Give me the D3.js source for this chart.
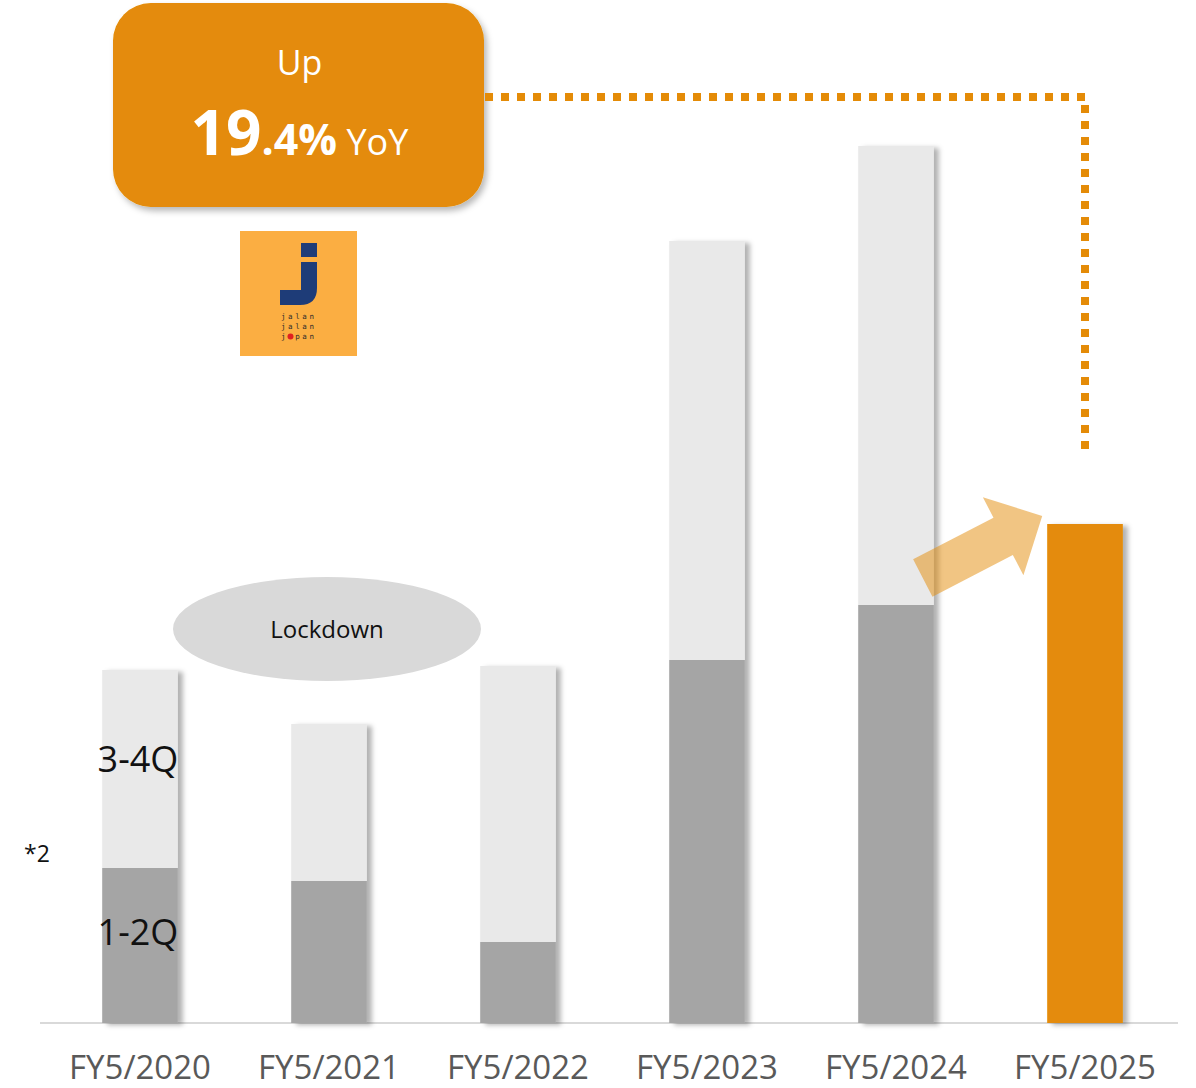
<!DOCTYPE html>
<html>
<head>
<meta charset="utf-8">
<script src="https://cdn.jsdelivr.net/npm/d3@7/dist/d3.min.js"></script>
<style>
  html, body { margin: 0; padding: 0; background: #fff; }
  svg { display: block; font-family: "Open Sans", "Noto Sans", sans-serif; }
</style>
</head>
<body>
<svg id="chart" width="1196" height="1088"></svg>
<script>
// Fiscal years (May year-end)
const categories = ["FY5/2020", "FY5/2021", "FY5/2022", "FY5/2023", "FY5/2024", "FY5/2025"];
// First-half (1-2Q) and second-half (3-4Q) values, same units
const firstHalf  = [15.5, 14.2, 8.1, 36.3, 41.8, 49.9];
const secondHalf = [19.8, 15.7, 27.6, 41.9, 45.9, null];
const segmentLabels = ["1-2Q", "3-4Q"];

const baseY = 1023;
const COLORS = { h1: "#A5A5A5", h2: "#E9E9E9", current: "#E48B07", text: "#595959" };

const svg = d3.select("#chart");
const defs = svg.append("defs");

const barShadow = defs.append("filter").attr("id", "barShadow")
  .attr("x", "-20%").attr("y", "-5%").attr("width", "150%").attr("height", "115%");
barShadow.append("feDropShadow").attr("dx", 5).attr("dy", 2).attr("stdDeviation", 2.5)
  .attr("flood-color", "#000").attr("flood-opacity", 0.3);

const boxShadow = defs.append("filter").attr("id", "boxShadow")
  .attr("x", "-10%").attr("y", "-10%").attr("width", "125%").attr("height", "130%");
boxShadow.append("feDropShadow").attr("dx", 3).attr("dy", 4).attr("stdDeviation", 3)
  .attr("flood-color", "#000").attr("flood-opacity", 0.28);

const x = d3.scaleBand().domain(categories).range([45.5, 1179.5])
  .paddingInner(0.6).paddingOuter(0.3);
const y = d3.scaleLinear().domain([0, 100]).range([baseY, 23]);
const bw = x.bandwidth();

const rows = categories.map((c, i) => ({ cat: c, h1: firstHalf[i], h2: secondHalf[i], current: secondHalf[i] == null }));

// Axis along the baseline
const axis = svg.append("g").attr("transform", `translate(0,${baseY})`)
  .call(d3.axisBottom(x).tickSize(0).tickPadding(33));
axis.select(".domain").attr("stroke", "#D9D9D9").attr("stroke-width", 2)
  .attr("d", `M40,0H1178`);
axis.selectAll("text").attr("font-size", 33).attr("fill", COLORS.text)
  .attr("font-family", "Open Sans, sans-serif");

// Stacked bars
const bars = svg.append("g").selectAll("g.bar").data(rows).join("g")
  .attr("class", "bar").attr("filter", "url(#barShadow)");
bars.append("rect")
  .attr("x", d => x(d.cat)).attr("width", bw)
  .attr("y", d => y(d.h1)).attr("height", d => baseY - y(d.h1))
  .attr("fill", d => d.current ? COLORS.current : COLORS.h1);
bars.filter(d => !d.current).append("rect")
  .attr("x", d => x(d.cat)).attr("width", bw)
  .attr("y", d => y(d.h1 + d.h2)).attr("height", d => y(d.h1) - y(d.h1 + d.h2))
  .attr("fill", COLORS.h2);

// Segment labels on the first bar
const first = rows[0];
const cx0 = x(first.cat) + bw / 2 - 2;
svg.append("text").attr("x", cx0).attr("y", y(first.h1 + first.h2 / 2) + 3)
  .attr("text-anchor", "middle").attr("font-size", 36).attr("fill", "#111")
  .text(segmentLabels[1]);
svg.append("text").attr("x", cx0).attr("y", y(first.h1 / 2) - 1)
  .attr("text-anchor", "middle").attr("font-size", 36).attr("fill", "#111")
  .text(segmentLabels[0]);
svg.append("text").attr("x", 24).attr("y", 862)
  .attr("font-size", 23).attr("fill", "#111").text("*2");

// Lockdown bubble above FY5/2021
const lx = x("FY5/2021") + bw / 2 - 2;
const ly = y(first.h1 + first.h2) - 41;
svg.append("ellipse").attr("cx", lx).attr("cy", ly).attr("rx", 154).attr("ry", 52).attr("fill", "#D9D9D9");
svg.append("text").attr("x", lx).attr("y", ly + 9).attr("text-anchor", "middle")
  .attr("font-size", 24).attr("fill", "#111").text("Lockdown");

// Growth arrow from FY5/2024 first half to FY5/2025
const prev = rows[4], cur = rows[5];
const tail = [x(prev.cat) + bw - 11, y(prev.h1) - 27];
const tip = [x(cur.cat) - 5, y(cur.h1) - 8];
const ang = Math.atan2(tip[1] - tail[1], tip[0] - tail[0]) * 180 / Math.PI;
const len = Math.hypot(tip[0] - tail[0], tip[1] - tail[1]);
const shaftW = 42, headW = 88, headL = 44;
svg.append("path")
  .attr("transform", `translate(${tail[0]},${tail[1]}) rotate(${ang})`)
  .attr("d", `M0,${-shaftW/2}H${len-headL}V${-headW/2}L${len},0L${len-headL},${headW/2}V${shaftW/2}H0Z`)
  .attr("fill", COLORS.current).attr("fill-opacity", 0.5);

// Growth callout
const growth = (cur.h1 / prev.h1 - 1) * 100;
const gStr = growth.toFixed(1);
const [gInt, gDec] = gStr.split(".");
const box = { x: 113, y: 3, w: 371, h: 204 };
svg.append("rect").attr("x", box.x).attr("y", box.y).attr("width", box.w).attr("height", box.h)
  .attr("rx", 38).attr("fill", COLORS.current).attr("filter", "url(#boxShadow)");
const bcx = box.x + box.w / 2 + 1;
svg.append("text").attr("x", bcx).attr("y", 75).attr("text-anchor", "middle")
  .attr("font-size", 34).attr("fill", "#fff").text("Up");
const gt = svg.append("text").attr("x", bcx).attr("y", 155).attr("text-anchor", "middle").attr("fill", "#fff");
gt.append("tspan").attr("font-size", 62).attr("font-weight", 700).text(gInt);
gt.append("tspan").attr("font-size", 43).attr("font-weight", 700).text("." + gDec + "%");
gt.append("tspan").attr("font-size", 36).text(" YoY");

// Dotted leader from the callout to the FY5/2025 bar
const lead = [[box.x + box.w + 1, 97], [x(cur.cat) + bw / 2, 97], [x(cur.cat) + bw / 2, y(cur.h1) - 70]];
svg.append("path").attr("d", d3.line()(lead)).attr("fill", "none")
  .attr("stroke", COLORS.current).attr("stroke-width", 8).attr("stroke-dasharray", "8 8");

// Brand logo
const logo = svg.append("g").attr("transform", "translate(240,231)");
logo.append("rect").attr("width", 117).attr("height", 125).attr("fill", "#FBAE42");
logo.append("rect").attr("x", 61).attr("y", 12).attr("width", 16).attr("height", 14).attr("fill", "#1E3C78");
logo.append("path").attr("d", "M61,31H77V57Q77,74 60,74H40V59H61Z").attr("fill", "#1E3C78");
const words = ["jalan", "jalan", "japan"];
words.forEach((w, i) => {
  const t = logo.append("text").attr("x", 41).attr("y", 88 + i * 10)
    .attr("font-size", 7.5).attr("letter-spacing", 2.6).attr("fill", "#2b2b2b")
    .attr("font-family", "DejaVu Sans Mono, monospace");
  if (i === 2) {
    t.text("j pan");
    logo.append("circle").attr("cx", 50.5).attr("cy", 105.5).attr("r", 3).attr("fill", "#E02020");
  } else {
    t.text(w);
  }
});
</script>
</body>
</html>
